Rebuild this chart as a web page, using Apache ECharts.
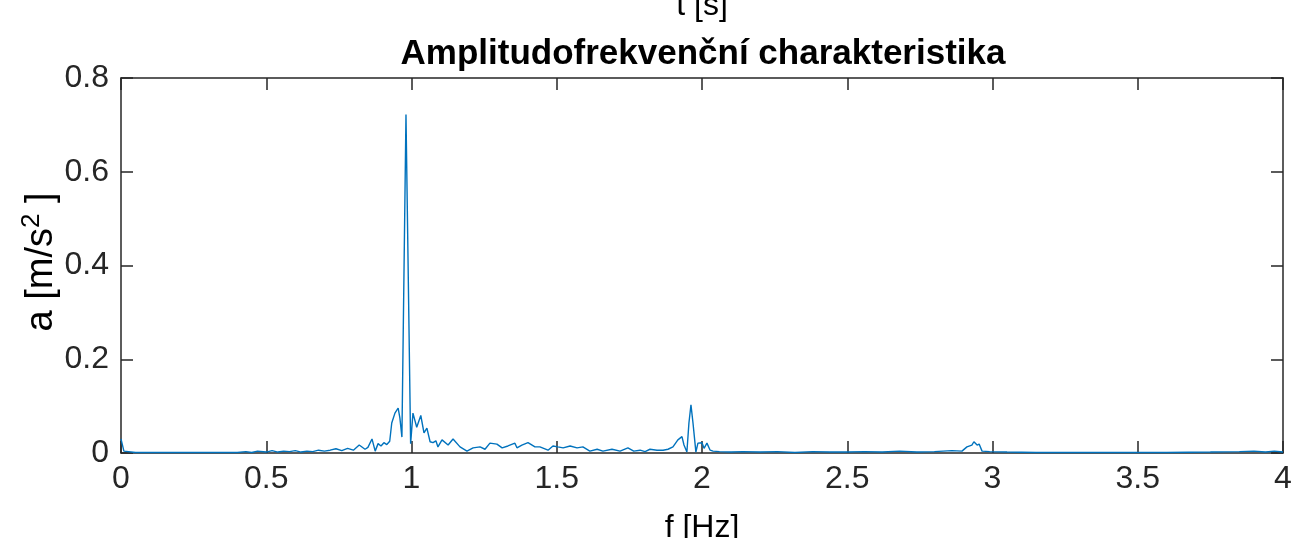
<!DOCTYPE html>
<html>
<head>
<meta charset="utf-8">
<script src="https://cdn.jsdelivr.net/npm/echarts@6/dist/echarts.min.js"></script>
<style>
html,body{margin:0;padding:0;background:#fff;}
#chart{width:1300px;height:538px;}
</style>
</head>
<body>
<div id="chart"></div>
<script>
// Frequency [Hz]
var freq = [0,0.01,0.05,0.1,0.2,0.3,0.4,0.43,0.45,0.47,0.5,0.52,0.54,0.56,0.58,0.6,0.62,0.64,0.66,0.68,0.7,0.72,0.74,0.76,0.78,0.8,0.82,0.84,0.85,0.864,0.875,0.885,0.895,0.905,0.915,0.925,0.932,0.943,0.954,0.96,0.967,0.981,0.997,1.005,1.018,1.032,1.043,1.053,1.064,1.074,1.084,1.091,1.105,1.126,1.143,1.167,1.191,1.212,1.236,1.253,1.27,1.294,1.312,1.332,1.356,1.363,1.38,1.401,1.425,1.442,1.47,1.487,1.504,1.522,1.546,1.57,1.59,1.614,1.639,1.659,1.69,1.718,1.745,1.765,1.787,1.804,1.821,1.845,1.866,1.883,1.9,1.917,1.931,1.938,1.948,1.955,1.962,1.969,1.979,1.986,2.0,2.007,2.017,2.028,2.038,2.06,2.1,2.14,2.2,2.26,2.32,2.38,2.44,2.5,2.56,2.62,2.68,2.74,2.8,2.86,2.895,2.912,2.929,2.936,2.947,2.954,2.964,2.99,3.05,3.15,3.3,3.45,3.6,3.75,3.85,3.9,3.94,3.97,4.0];
// Amplitude [m/s^2]
var amp = [0.03,0.004,0.001,0.001,0.001,0.001,0.001,0.003,0.001,0.004,0.002,0.005,0.002,0.004,0.003,0.005,0.002,0.004,0.003,0.006,0.004,0.006,0.009,0.005,0.01,0.006,0.017,0.008,0.012,0.03,0.004,0.02,0.015,0.022,0.018,0.025,0.064,0.085,0.096,0.075,0.034,0.722,0.02,0.085,0.055,0.08,0.043,0.053,0.024,0.022,0.026,0.013,0.028,0.017,0.03,0.013,0.004,0.011,0.013,0.008,0.021,0.019,0.011,0.015,0.021,0.011,0.017,0.022,0.013,0.013,0.006,0.015,0.013,0.011,0.015,0.011,0.013,0.004,0.008,0.004,0.008,0.004,0.011,0.004,0.006,0.003,0.008,0.006,0.006,0.008,0.013,0.028,0.035,0.017,0.002,0.064,0.103,0.064,0.002,0.021,0.022,0.01,0.021,0.006,0.004,0.003,0.002,0.003,0.002,0.003,0.001,0.003,0.002,0.002,0.003,0.002,0.004,0.002,0.003,0.005,0.004,0.013,0.017,0.024,0.017,0.019,0.004,0.003,0.002,0.001,0.001,0.001,0.001,0.002,0.003,0.004,0.002,0.004,0.002];

var titleText = 'Amplitudofrekvenční charakteristika';
var topCutText = 't [s]';
var xName = 'f [Hz]';
var yNameMain = 'a [m/s';
var yNameSup = '2';
var yNameEnd = ' ]';

var points = freq.map(function(f,i){ return [f, amp[i]]; });

var axisColor = '#262626';
var font = 'Liberation Sans, Arial, sans-serif';

var chart = echarts.init(document.getElementById('chart'));
function xAx(pos, showLabel){
  return {
    type:'value', min:0, max:4, interval:0.5, position:pos,
    axisLine:{show:true, onZero:false, lineStyle:{color:axisColor, width:1.5}},
    axisTick:{show:true, inside:true, length:12, lineStyle:{color:axisColor, width:1.5}},
    axisLabel:{show:showLabel, margin:10, fontFamily:font, fontSize:32, color:axisColor},
    splitLine:{show:false}
  };
}
function yAx(pos, showLabel){
  return {
    type:'value', min:0, max:0.8, interval:0.2, position:pos,
    axisLine:{show:true, onZero:false, lineStyle:{color:axisColor, width:1.5}},
    axisTick:{show:true, inside:true, length:12, lineStyle:{color:axisColor, width:1.5}},
    axisLabel:{show:showLabel, margin:12, fontFamily:font, fontSize:32, color:axisColor},
    splitLine:{show:false}
  };
}
chart.setOption({
  animation:false,
  backgroundColor:'#ffffff',
  title:{
    text:titleText, left:698, top:32, textAlign:'center',
    textStyle:{fontFamily:font, fontWeight:'bold', fontSize:35, color:'#000'}
  },
  grid:{left:121, right:17, top:78, bottom:85, containLabel:false},
  xAxis:[xAx('bottom', true), xAx('top', false)],
  yAxis:[yAx('left', true), yAx('right', false)],
  graphic:[
    {type:'text', x:702, y:-10, style:{text:topCutText, font:'32px '+font, fill:'#000', textAlign:'center', textVerticalAlign:'top'}},
    {type:'text', x:702, y:512, style:{text:xName, font:'32px '+font, fill:'#000', textAlign:'center', textVerticalAlign:'top'}},
    {type:'text', x:40, y:262, rotation:Math.PI/2, style:{
      text:'{m|'+yNameMain+'}{s|'+yNameSup+'}{m|'+yNameEnd+'}',
      textAlign:'center', textVerticalAlign:'middle', fill:'#000',
      rich:{
        m:{fontFamily:font, fontSize:38, fill:'#000', color:'#000', verticalAlign:'bottom', lineHeight:42},
        s:{fontFamily:font, fontSize:26, fill:'#000', color:'#000', verticalAlign:'top', lineHeight:42}
      }
    }}
  ],
  series:[{
    type:'line', data:points, showSymbol:false, symbol:'none',
    xAxisIndex:0, yAxisIndex:0,
    lineStyle:{color:'#0072BD', width:1.4},
    silent:true
  }]
});
</script>
</body>
</html>
